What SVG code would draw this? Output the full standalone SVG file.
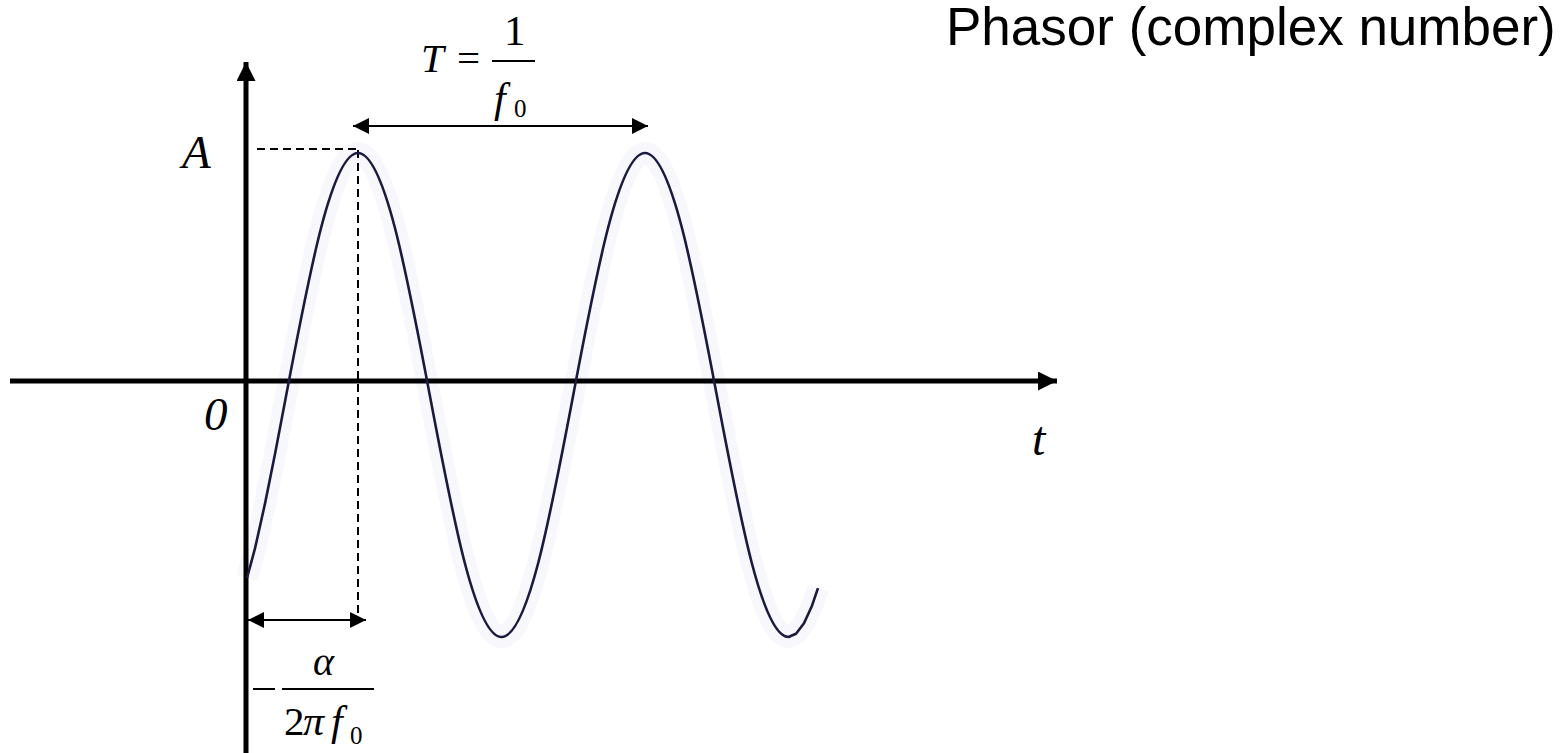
<svg xmlns="http://www.w3.org/2000/svg" width="1565" height="753" viewBox="0 0 1565 753">
<style>
.m{font-family:"Liberation Serif","Times New Roman",serif;font-style:italic;fill:#000}
.r{font-family:"Liberation Serif","Times New Roman",serif;fill:#000}
.ax{stroke:#000;stroke-width:5;fill:none}
.thin{stroke:#000;stroke-width:2;fill:none}
.dash{stroke:#000;stroke-width:2;stroke-dasharray:8 5;fill:none}
</style>
<defs>
<marker id="ah" viewBox="0 0 10 10" refX="10" refY="5" markerWidth="3.8" markerHeight="3.8" orient="auto-start-reverse" markerUnits="strokeWidth"><path d="M0,0 L10,5 L0,10 z" fill="#000"/></marker>
<marker id="ahs" viewBox="0 0 10 10" refX="10" refY="5" markerWidth="8" markerHeight="8" orient="auto-start-reverse" markerUnits="strokeWidth"><path d="M0,0 L10,5 L0,10 z" fill="#000"/></marker>
</defs>
<rect width="1565" height="753" fill="#fff"/>
<g id="wave-glow">
<path fill="none" stroke="#f7f7fc" stroke-width="22" stroke-linejoin="round" d="M247,578 L255,548.4 L265,503.6 L275,454 L286.25,395 C309.65,271.03 332.03,153 358,153 C383.97,153 406.35,271.03 429.75,395 C453.15,518.97 475.53,637 501.5,637 C527.47,637 549.85,518.97 573.25,395 C596.65,271.03 619.03,153 645,153 C670.97,153 693.35,271.03 716.75,395 C740.15,518.97 762.53,637 788.5,637 L796,633.7 L804,623.2 L812,605.7 L818,588.2"/>
</g>
<g id="connectors">
<line class="ax" x1="10" y1="381" x2="1057" y2="381" marker-end="url(#ah)"/>
<line class="ax" x1="246" y1="753" x2="246" y2="62" marker-end="url(#ah)"/>
<line class="dash" x1="257" y1="149" x2="358" y2="149"/>
<line class="dash" x1="358" y1="150" x2="358" y2="618"/>
<line class="thin" x1="353" y1="126" x2="648" y2="126" marker-start="url(#ahs)" marker-end="url(#ahs)"/>
<line class="thin" x1="248" y1="620" x2="366" y2="620" marker-start="url(#ahs)" marker-end="url(#ahs)"/>
</g>
<g id="wave">
<path id="sine" fill="none" stroke="#1a1a40" stroke-width="2.6" stroke-linejoin="round" d="M247,578 L255,548.4 L265,503.6 L275,454 L286.25,395 C309.65,271.03 332.03,153 358,153 C383.97,153 406.35,271.03 429.75,395 C453.15,518.97 475.53,637 501.5,637 C527.47,637 549.85,518.97 573.25,395 C596.65,271.03 619.03,153 645,153 C670.97,153 693.35,271.03 716.75,395 C740.15,518.97 762.53,637 788.5,637 L796,633.7 L804,623.2 L812,605.7 L818,588.2"/>
</g>
<g id="labels">
<text class="m" x="182" y="168" font-size="47">A</text>
<text class="m" x="204" y="430" font-size="47">0</text>
<text class="m" x="1032" y="455" font-size="48">t</text>
<text class="m" x="421" y="72" font-size="41">T</text>
<text class="r" x="457" y="72" font-size="41">=</text>
<text class="r" x="504" y="45" font-size="43">1</text>
<line class="thin" x1="492" y1="61" x2="535" y2="61"/>
<text class="m" x="494" y="112" font-size="42">f</text>
<text class="r" x="514" y="117" font-size="25">0</text>
<line class="thin" x1="253" y1="689" x2="275" y2="689"/>
<line class="thin" x1="282" y1="689" x2="374" y2="689"/>
<text class="m" x="313" y="675" font-size="40">α</text>
<text class="r" x="284" y="735" font-size="41">2</text>
<text class="m" x="303" y="735" font-size="42">π</text>
<text class="m" x="331" y="735" font-size="42">f</text>
<text class="r" x="350" y="744" font-size="25">0</text>
<text x="946" y="45" font-family="'Liberation Sans',Arial,sans-serif" font-size="53" fill="#000">Phasor (complex number)</text>
</g>
</svg>
